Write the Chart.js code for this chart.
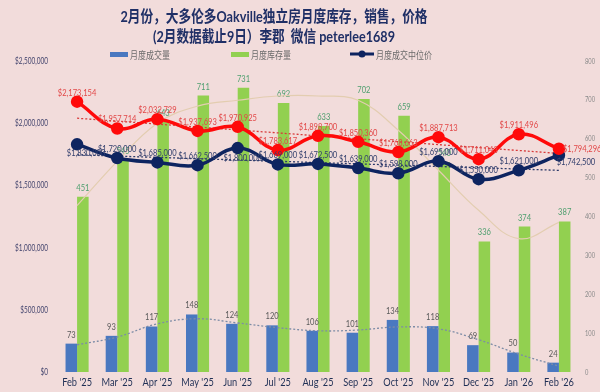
<!DOCTYPE html>
<html>
<head>
<meta charset="utf-8">
<script src="https://cdn.jsdelivr.net/npm/chart.js@4.4.1/dist/chart.umd.min.js"></script>
<style>
  html, body { margin: 0; padding: 0; background: #f2dcdb; }
  #wrap { width: 600px; height: 392px; position: relative; }
</style>
</head>
<body>
<div id="wrap"><canvas id="chart"></canvas></div>
<script>
// ── Données ─────────────────────────────────────────────
const MONTHS = ["Feb '25", "Mar '25", "Apr '25", "May '25", "Jun '25", "Jul '25", "Aug '25",
                "Sep '25", "Oct '25", "Nov '25", "Dec '25", "Jan '26", "Feb '26"];
const SALES        = [73, 93, 117, 148, 124, 120, 106, 101, 134, 118, 69, 50, 24];
const INVENTORY    = [451, 545, 643, 711, 731, 692, 633, 702, 659, 540, 336, 374, 387];
const MEDIAN_PRICE = [1830000, 1720000, 1685000, 1662500, 1800000, 1669000, 1672500,
                      1639000, 1598000, 1695000, 1550000, 1621000, 1742500];
const AVG_PRICE    = [2173154, 1957714, 2032729, 1937693, 1970925, 1783617, 1898700,
                      1850360, 1768663, 1887713, 1711043, 1911496, 1794296];

// courbes de tendance
const AVG_TREND    = [2040000, null, null, null, null, null, null, null, null, null, null, null, 1757000];
const MEDIAN_TREND = [1746000, null, null, null, null, null, null, null, null, null, null, null, 1621000];
const SALES_TREND  = [70, 90, 124, 137, 126, 114, 106, 108, 116, 111, 83, 46, 15];
const INV_TREND    = [428, 542, 640, 684, 699, 710, 710, 699, 622, 519, 416, 343, 385];

const PRICE_TICKS = [0, 500000, 1000000, 1500000, 2000000, 2500000];
const COUNT_TICKS = [0, 100, 200, 300, 400, 500, 600, 700, 800];

const TITLE_1 = "2月份，大多伦多Oakville独立房月度库存，销售，价格";
const TITLE_2 = "(2月数据截止9日）李郡  微信 peterlee1689";
const LEGEND  = ["月度成交量", "月度库存量", "月度成交中位价"];

// ── Couleurs ────────────────────────────────────────────
const C_BLUE  = "#4a78c0";
const C_GREEN = "#92d050";
const C_RED   = "#ff0a0a";
const C_NAVY  = "#0e2460";
const LATIN   = "Lato, 'Noto Sans CJK SC', sans-serif";

const money = v => "$" + v.toLocaleString("en-US");

// ── Helpers de dessin ───────────────────────────────────
function squished(ctx, text, x, y, sx, align = "center") {
  ctx.save();
  ctx.translate(x, y);
  ctx.scale(sx, 1);
  ctx.textAlign = align;
  ctx.fillText(text, 0, 0);
  ctx.restore();
}

// étiquettes de valeurs (façon Excel)
const valueLabels = {
  id: "valueLabels",
  afterDatasetDraw(chart, args) {
    const ds = chart.data.datasets[args.index];
    if (!ds.lbl || ds.type === "line") return;
    drawLabels(chart, args.index, ds);
  },
  afterDatasetsDraw(chart) {
    chart.data.datasets.forEach((ds, i) => {
      if (ds.lbl && ds.type === "line") drawLabels(chart, i, ds);
    });
  },
};

function drawLabels(chart, i, ds) {
  const ctx = chart.ctx;
  const meta = chart.getDatasetMeta(i);
  ctx.save();
  ctx.font = "9px " + LATIN;
  ctx.fillStyle = ds.lbl.color;
  ctx.textBaseline = "middle";
  meta.data.forEach((el, j) => {
    const v = ds.data[j];
    if (v == null) return;
    const off = (ds.lbl.offsets && ds.lbl.offsets[j]) || [0, -9];
    squished(ctx, ds.lbl.fmt(v), el.x + off[0], el.y + off[1], 0.84, off[2] || "center");
  });
  ctx.restore();
}

// libellés d'axes, tassés horizontalement comme dans l'original
const axisLabels = {
  id: "axisLabels",
  afterDraw(chart) {
    const ctx = chart.ctx;
    const { x, yP, yC } = chart.scales;
    ctx.save();
    ctx.textBaseline = "middle";

    ctx.font = "11px " + LATIN;
    ctx.fillStyle = "#1f2f55";
    MONTHS.forEach((m, i) => squished(ctx, m, x.getPixelForValue(i), 382, 0.84));

    ctx.font = "9px " + LATIN;
    ctx.fillStyle = "#44456e";
    PRICE_TICKS.forEach(v => squished(ctx, money(v), 48, yP.getPixelForValue(v), 0.72, "right"));

    ctx.font = "8px " + LATIN;
    ctx.fillStyle = "#8a8a8a";
    COUNT_TICKS.forEach(v => squished(ctx, String(v), 585, yC.getPixelForValue(v), 0.72, "left"));
    ctx.restore();
  },
};

// titre + légende
const header = {
  id: "header",
  afterDraw(chart) {
    const ctx = chart.ctx;
    ctx.save();
    ctx.fillStyle = "#1f2f66";
    ctx.textBaseline = "middle";
    ctx.font = "bold 16px " + LATIN;
    const w1 = ctx.measureText(TITLE_1).width;
    squished(ctx, TITLE_1, 274, 17, 307 / w1);
    const w2 = ctx.measureText(TITLE_2).width;
    squished(ctx, TITLE_2, 274, 37, 242 / w2);

    const y = 54;
    ctx.font = "10px 'Noto Sans CJK SC', sans-serif";
    ctx.fillStyle = C_BLUE;
    ctx.fillRect(110, y - 2, 18, 5);
    ctx.fillStyle = C_GREEN;
    ctx.fillRect(231, y - 2, 18, 5);
    ctx.strokeStyle = C_NAVY;
    ctx.lineWidth = 3;
    ctx.beginPath(); ctx.moveTo(350, y); ctx.lineTo(374, y); ctx.stroke();
    ctx.fillStyle = C_NAVY;
    ctx.beginPath(); ctx.arc(362, y, 3.5, 0, Math.PI * 2); ctx.fill();

    ctx.fillStyle = "#6a6a6a";
    squished(ctx, LEGEND[0], 130, y + 1, 0.8, "left");
    squished(ctx, LEGEND[1], 251, y + 1, 0.8, "left");
    squished(ctx, LEGEND[2], 376, y + 1, 0.8, "left");
    ctx.restore();
  },
};

function lineSet(label, data, color, extra = {}) {
  return Object.assign({
    type: "line",
    label,
    data,
    yAxisID: "yP",
    borderColor: color,
    backgroundColor: color,
    pointBackgroundColor: color,
    pointBorderColor: color,
    borderWidth: 3.5,
    pointRadius: 4.5,
    tension: 0.4,
    order: 1,
  }, extra);
}

function trendSet(data, color, axis, extra = {}) {
  return Object.assign({
    type: "line",
    data,
    yAxisID: axis,
    borderColor: color,
    borderWidth: 1.3,
    borderDash: [2, 2],
    pointRadius: 0,
    spanGaps: true,
    tension: 0.4,
    order: 2,
  }, extra);
}

// ── Graphique ───────────────────────────────────────────
new Chart(document.getElementById("chart"), {
  type: "bar",
  data: {
    labels: MONTHS,
    datasets: [
      {
        label: LEGEND[0], data: SALES, yAxisID: "yC", backgroundColor: C_BLUE,
        barPercentage: 1, categoryPercentage: 0.575, order: 4,
        lbl: { color: "#5a5a5a", fmt: v => String(v), offsets: null },
      },
      {
        label: LEGEND[1], data: INVENTORY, yAxisID: "yC", backgroundColor: C_GREEN,
        barPercentage: 1, categoryPercentage: 0.575, order: 4,
        lbl: { color: "#4f9f6f", fmt: v => String(v), offsets: null },
      },
      trendSet(INV_TREND, "#e3cdb0", "yC", { borderDash: [], borderWidth: 1.2, order: 3 }),
      trendSet(SALES_TREND, "#7d8ca6", "yC"),
      trendSet(AVG_TREND, "#d83a3a", "yP"),
      trendSet(MEDIAN_TREND, "#2c3a6a", "yP"),
      lineSet(LEGEND[2], MEDIAN_PRICE, C_NAVY, {
        order: 1,
        lbl: {
          color: "#34406e", fmt: money,
          offsets: { 0: [9, 9], 4: [5, 10], 12: [17, 7] },
        },
      }),
      lineSet("月度成交均价", AVG_PRICE, C_RED, {
        order: 0,
        lbl: { color: "#e24848", fmt: money, offsets: { 12: [4, 0, "left"] } },
      }),
    ],
  },
  options: {
    responsive: true,
    maintainAspectRatio: false,
    animation: false,
    events: [],
    layout: { padding: { top: 61, left: 0, right: 0, bottom: 0 } },
    plugins: { legend: { display: false }, title: { display: false }, tooltip: { enabled: false } },
    scales: {
      x: {
        grid: { display: false },
        border: { display: false },
        ticks: { display: false },
        afterFit(s) { s.height = 20; },
      },
      yP: {
        position: "left",
        min: 0, max: 2500000,
        grid: { display: false },
        border: { display: false },
        afterBuildTicks(s) { s.ticks = PRICE_TICKS.map(v => ({ value: v })); },
        ticks: { display: false },
        afterFit(s) { s.width = 57; },
      },
      yC: {
        position: "right",
        min: 0, max: 800,
        grid: { display: false },
        border: { display: false },
        afterBuildTicks(s) { s.ticks = COUNT_TICKS.map(v => ({ value: v })); },
        ticks: { display: false },
        afterFit(s) { s.width = 21; },
      },
    },
  },
  plugins: [valueLabels, axisLabels, header],
});
</script>
</body>
</html>
